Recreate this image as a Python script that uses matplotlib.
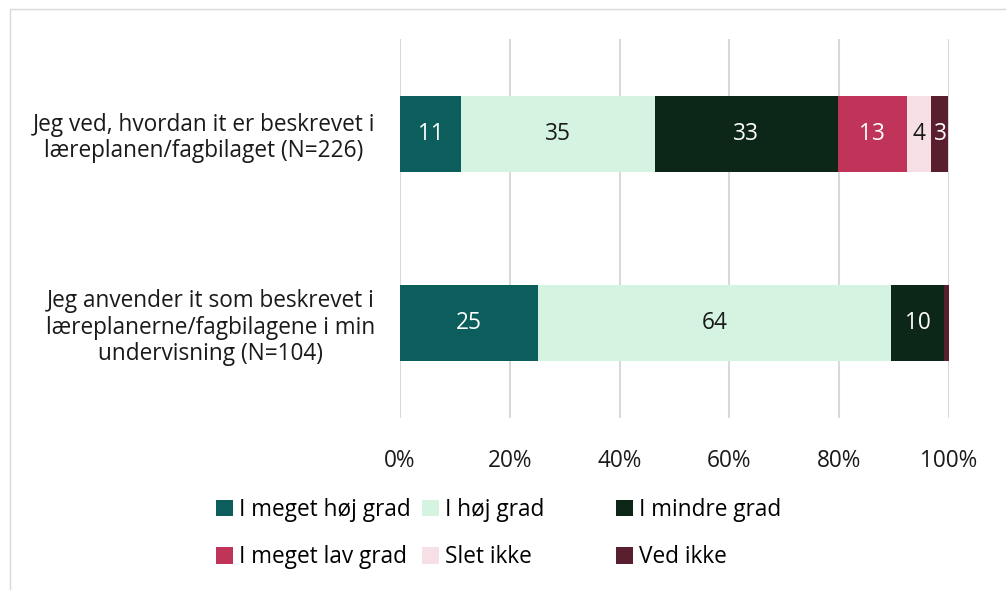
import matplotlib
matplotlib.use("Agg")
from matplotlib import pyplot as plt
from matplotlib.patches import Rectangle
import numpy as np

plt.rcParams['font.family'] = ['Open Sans', 'DejaVu Sans']

# data (percent)
questions = [
    "Jeg ved, hvordan it er beskrevet i\nlæreplanen/fagbilaget (N=226)",
    "Jeg anvender it som beskrevet i\nlæreplanerne/fagbilagene i min\nundervisning (N=104)",
]
categories = ["I meget høj grad", "I høj grad", "I mindre grad",
              "I meget lav grad", "Slet ikke", "Ved ikke"]
meget_hoj = [11.1, 25.1]
hoj = [35.4, 64.3]
mindre = [33.2, 9.7]
meget_lav = [12.7, 0.0]
slet_ikke = [4.4, 0.0]
ved_ikke = [3.1, 0.9]
bar_labels = [
    ["11", "25"],
    ["35", "64"],
    ["33", "10"],
    ["13", ""],
    ["4", ""],
    ["3", ""],
]
xticks = [0, 20, 40, 60, 80, 100]

colors = ["#0b5e5c", "#d5f3e1", "#0c2617", "#c0345a", "#f6dfe5", "#5a1f2e"]
text_colors = ["white", "#1a1a1a", "white", "white", "#1a1a1a", "white"]

series = [meget_hoj, hoj, mindre, meget_lav, slet_ikke, ved_ikke]
fs = 16.3

fig = plt.figure(figsize=(10.06, 5.90), dpi=100)
ax = fig.add_axes([400 / 1006, 1 - 418 / 590, 549 / 1006, 379 / 590])

y = np.arange(len(questions))
left = np.zeros(len(questions))
handles = []
for vals, col, tcol, labs, name in zip(series, colors, text_colors, bar_labels, categories):
    bars = ax.barh(y, vals, left=left, height=0.4, color=col, label=name, zorder=3)
    ax.bar_label(bars, labels=labs, label_type='center', color=tcol, fontsize=fs)
    handles.append(bars)
    left += np.array(vals)

ax.set_xlim(0, 100)
ax.set_ylim(len(questions) - 0.5, -0.5)
ax.set_xticks(xticks)
ax.set_xticklabels([f"{t}%" for t in xticks], fontsize=fs, color="#1a1a1a")
ax.set_yticks(y)
ax.set_yticklabels(questions, fontsize=fs, color="#1a1a1a", multialignment='center',
                   linespacing=1.15)
ax.tick_params(axis='both', length=0)
ax.tick_params(axis='x', pad=22)
ax.tick_params(axis='y', pad=18)
for s in ax.spines.values():
    s.set_visible(False)
ax.grid(axis='x', color="#d9d9d9", linewidth=1.5, zorder=0)

# legend: three columns placed by hand
col_x = [207, 413, 607]
for i, cx in enumerate(col_x):
    fig.legend([handles[i], handles[i + 3]], [categories[i], categories[i + 3]],
               loc='upper left', bbox_to_anchor=(cx / 1006, 1 - 489 / 590),
               frameon=False, fontsize=fs, handlelength=0.75, handleheight=0.75,
               handletextpad=0.25, labelspacing=1.02, borderaxespad=0)

# light frame around the chart area
fig.patches.append(Rectangle((10 / 1006, -0.05), 1.1, 1.05 - 9 / 590,
                             transform=fig.transFigure, fill=False,
                             edgecolor="#d9d9d9", linewidth=1))

fig.savefig("out.png", dpi=100)
